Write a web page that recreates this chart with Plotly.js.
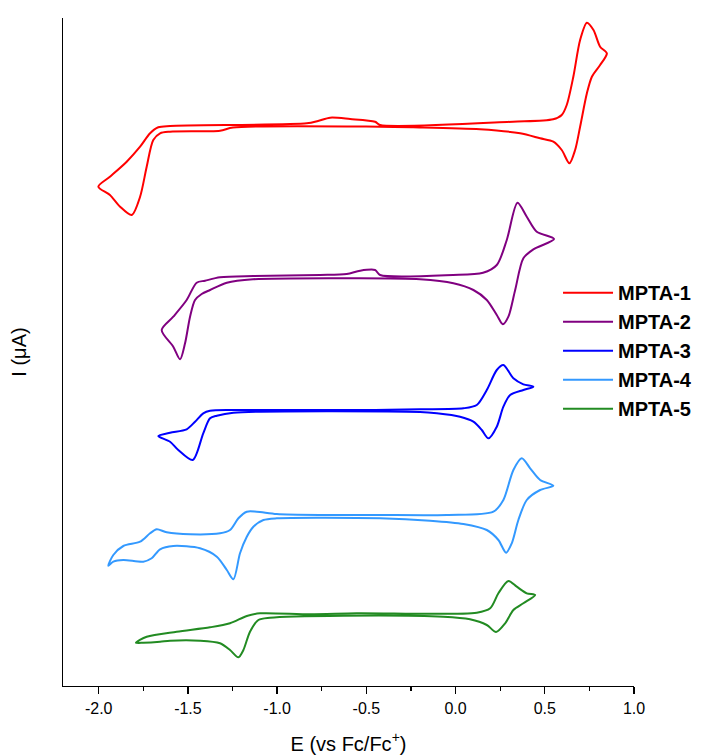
<!DOCTYPE html>
<html>
<head>
<meta charset="utf-8">
<script src="https://cdn.plot.ly/plotly-3.0.1.min.js"></script>
<style>
  html, body { margin: 0; padding: 0; background: #ffffff; }
  #chart { width: 706px; height: 756px; }
</style>
</head>
<body>
<div id="chart"></div>
<script>
// Series names and colours
const seriesNames = ["MPTA-1", "MPTA-2", "MPTA-3", "MPTA-4", "MPTA-5"];
const seriesColors = ["#FF0000", "#800080", "#0000FF", "#3399FF", "#228B22"];

// Potential E (V vs Fc/Fc+) and current (arbitrary offset units)
const e1 = [-0.451,-0.423,0.322,0.547,0.595,0.623,0.660,0.698,0.736,0.773,0.810,0.848,
  0.810,0.764,0.736,0.698,0.670,0.638,0.595,0.548,0.474,0.362,0.137,-0.238,-0.423,-1.247,-1.320,-1.600,-1.656,-1.694,-1.731,-1.768,-1.815,-1.880,-1.937,-2.002,
  -1.937,-1.843,-1.768,-1.712,-1.666,-1.600,-0.834,-0.771,-0.703,-0.591,-0.451];
const i1 = [564.3,561,564.3,566.7,571,581,609.3,646,663.3,656,639.3,632.7,
  621,609.3,592.7,559.3,536,522.7,536,544.3,547.7,552.7,556.7,558.7,559.3,558.5,555.3,554.3,552.7,546,519.3,489.3,471,479.3,491,499.3,
  509.3,524.3,539.3,552.7,558.7,560,562.7,565,568.3,567,564.3];

const e2 = [-0.451,-0.423,-0.014,0.154,0.231,0.287,0.347,0.399,0.455,0.552,
  0.436,0.380,0.334,0.296,0.265,0.231,0.175,0.100,-0.012,-0.199,-0.574,-1.135,-1.282,-1.376,-1.423,-1.460,-1.488,-1.516,-1.544,-1.582,-1.647,
  -1.582,-1.507,-1.451,-1.404,-1.320,-1.133,-0.759,-0.610,-0.535,-0.451];
const i2 = [416,411,411,413.3,421,446,483.3,469.3,454.3,447,
  436.7,427.7,396,369.3,361.7,371,386,396,402.7,406.7,407.7,406.7,403.3,396,392,386,369.3,342.7,326.7,339.3,356,
  369.3,386,403.3,405.3,408.7,410,411,412,415.3,416];

const e3 = [-0.451,-0.199,0.044,0.119,0.175,0.231,0.268,0.324,0.380,0.436,
  0.380,0.306,0.268,0.231,0.184,0.147,0.100,0.025,-0.105,-0.199,-1.245,-1.338,-1.376,-1.414,-1.473,-1.554,-1.600,-1.666,
  -1.600,-1.507,-1.460,-1.414,-1.376,-1.245,-0.451];
const i3 = [276,276.7,277.7,281,296,316,321,307.7,301.7,299.3,
  296,291,279.3,259.3,247.7,256,264.3,269.3,272.7,274,273.3,270.3,267.7,252.7,226,236,244.3,250,
  253.3,256.7,264.3,272.7,275.3,276,276];

const e4 = [-0.451,-0.049,0.212,0.268,0.324,0.371,0.418,0.474,0.548,
  0.474,0.399,0.352,0.315,0.283,0.240,0.175,0.044,-0.143,-0.423,-1.002,-1.077,-1.133,-1.170,-1.208,-1.245,-1.282,-1.338,-1.432,-1.582,-1.656,-1.703,-1.750,-1.862,-1.918,-1.946,
  -1.918,-1.862,-1.768,-1.712,-1.675,-1.619,-1.488,-1.320,-1.264,-1.217,-1.170,-1.114,-1.002,-0.741,-0.451];
const i4 = [171,171,174.3,186,216,227.7,217.7,206,200.3,
  196,186,166,142.7,133.3,146,156,162,165.3,167.7,167.7,166,159.3,149.3,132.7,106.7,116,129.3,137.7,140,136.7,127.7,124.3,126,124.3,120.3,
  131,140,144.3,152.7,156.7,153.7,151.7,152.7,156,167.7,174.3,174.3,172,171,171];

const e5 = [-0.554,0.119,0.194,0.240,0.296,0.343,0.399,0.446,
  0.380,0.324,0.278,0.227,0.175,0.081,-0.068,-0.629,-1.040,-1.105,-1.152,-1.189,-1.217,-1.264,-1.320,-1.432,-1.600,-1.656,-1.750,-1.791,
  -1.731,-1.563,-1.376,-1.264,-1.170,-1.096,-0.815,-0.554];
const i5 = [72.7,73.3,77.7,92.7,105,99.3,92.7,91,
  82.7,76,62.7,54,61,66.7,69.3,70.3,68.3,66,54.3,36,28.7,36,42.7,45.3,45.3,44.3,43.3,43.3,
  49.3,54.3,58.7,62.7,70,72.7,71.7,72.7];

// Axis tick values / labels
const xTickVals = [-2.0, -1.5, -1.0, -0.5, 0.0, 0.5, 1.0];
const xTickText = ["-2.0", "-1.5", "-1.0", "-0.5", "0.0", "0.5", "1.0"];

const allE = [e1, e2, e3, e4, e5];
const allI = [i1, i2, i3, i4, i5];

const traces = seriesNames.map((name, k) => ({
  type: "scatter",
  mode: "lines",
  name: name,
  x: allE[k],
  y: allI[k],
  line: { color: seriesColors[k], width: 2, shape: "spline", smoothing: 0.8 },
  hoverinfo: "skip"
}));

const layout = {
  width: 706,
  height: 756,
  margin: { l: 63, r: 72, t: 18, b: 70, pad: 0, autoexpand: false },
  paper_bgcolor: "#ffffff",
  plot_bgcolor: "#ffffff",
  font: { family: "Liberation Sans, Arial, sans-serif", color: "#000000" },
  showlegend: true,
  legend: {
    xref: "container", x: 0.7904, xanchor: "left",
    y: 0.618, yanchor: "top",
    bgcolor: "rgba(0,0,0,0)",
    borderwidth: 0,
    itemwidth: 50,
    font: { family: "Liberation Sans, Arial, sans-serif", size: 20, color: "#000000", weight: "bold" }
  },
  xaxis: {
    range: [-2.2, 1.0],
    automargin: false,
    showgrid: false,
    zeroline: false,
    showline: true,
    linecolor: "#000000",
    linewidth: 1.3,
    ticks: "outside",
    ticklen: 7,
    tickwidth: 1.3,
    tickcolor: "#000000",
    tickmode: "array",
    tickvals: xTickVals,
    ticktext: xTickText,
    tickfont: { size: 16, color: "#000000" },
    minor: { dtick: 0.25, tick0: 0, ticks: "outside", ticklen: 4, tickwidth: 1.3, tickcolor: "#000000", showgrid: false },
    title: { text: "E (vs Fc/Fc<sup>+</sup>)", font: { size: 20, color: "#000000" }, standoff: 21 }
  },
  yaxis: {
    range: [0, 668],
    automargin: false,
    showgrid: false,
    zeroline: false,
    showline: true,
    linecolor: "#000000",
    linewidth: 1.3,
    ticks: "",
    showticklabels: false,
    title: { text: "I (μA)", font: { size: 20, color: "#000000" }, standoff: 29 }
  }
};

Plotly.newPlot("chart", traces, layout, { staticPlot: true, displayModeBar: false });
</script>
</body>
</html>
